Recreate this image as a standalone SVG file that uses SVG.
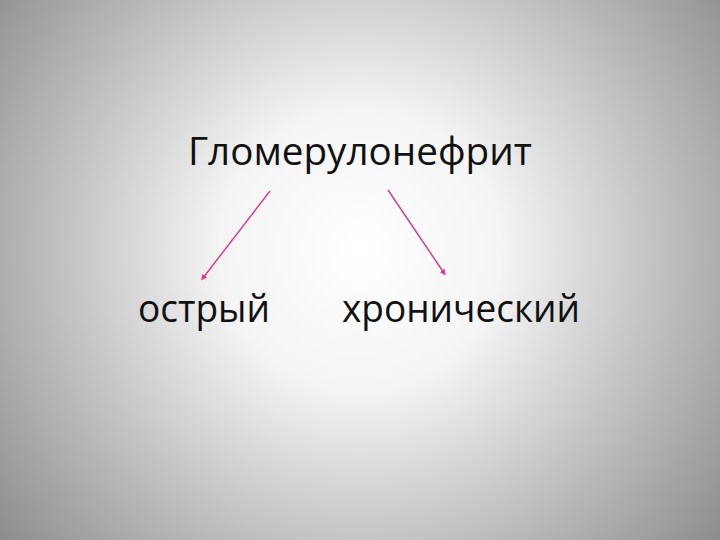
<svg xmlns="http://www.w3.org/2000/svg" width="720" height="540" viewBox="0 0 720 540">
<defs>
<radialGradient id="bg" cx="360" cy="250" r="470" gradientUnits="userSpaceOnUse">
<stop offset="0" stop-color="#ffffff"/>
<stop offset="0.3" stop-color="#f4f4f4"/>
<stop offset="1" stop-color="#8a8a8a"/>
</radialGradient>
<marker id="ah" markerWidth="6" markerHeight="6" refX="3" refY="3" orient="auto" markerUnits="userSpaceOnUse">
<path d="M0,0 L6,3 L0,6 z" fill="#d6408c"/>
</marker>
<style>
.t{font-family:"Open Sans","Noto Sans","Liberation Sans",sans-serif;font-size:38px;fill:#111}
.c{stroke:#d6408c;stroke-width:1.5;fill:none;marker-end:url(#ah)}
</style>
</defs>
<rect width="720" height="540" fill="url(#bg)"/>
<g id="root"><text class="t" x="188" y="165" textLength="344" lengthAdjust="spacingAndGlyphs">Гломерулонефрит</text></g>
<g id="acute"><text class="t" x="138" y="322" textLength="132" lengthAdjust="spacingAndGlyphs">острый</text></g>
<g id="chronic"><text class="t" x="342" y="322" textLength="238" lengthAdjust="spacingAndGlyphs">хронический</text></g>
<g id="connectors">
<line class="c" x1="270" y1="191" x2="203" y2="278"/>
<line class="c" x1="388" y1="190" x2="444" y2="273"/>
</g>
</svg>
